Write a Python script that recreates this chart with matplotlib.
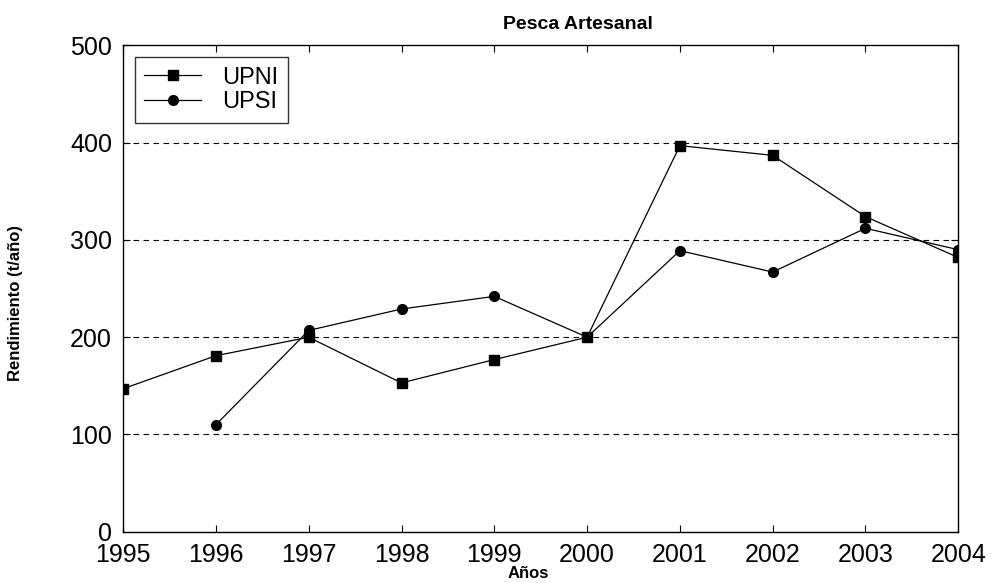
import numpy as np
import matplotlib.pyplot as plt

plt.rcParams['font.family'] = ['Liberation Sans', 'DejaVu Sans']

years = [1995, 1996, 1997, 1998, 1999, 2000, 2001, 2002, 2003, 2004]
upni = [147, 181, 200, 153, 177, 200, 397, 387, 324, 282]
upsi_years = [1996, 1997, 1998, 1999, 2000, 2001, 2002, 2003, 2004]
upsi = [110, 207, 229, 242, 200, 289, 267, 312, 290]

fig = plt.figure(figsize=(9.93, 5.83), dpi=100)
ax = fig.add_axes([0.124, 0.088, 0.841, 0.834])

ax.plot(years, upni, color='black', lw=0.9, marker='s', ms=7, label='UPNI')
ax.plot(upsi_years, upsi, color='black', lw=0.9, marker='o', ms=7, label='UPSI')

ax.set_xlim(1995, 2004)
ax.set_ylim(0, 500)
ax.set_xticks(years)
ax.set_yticks(np.arange(0, 501, 100))
ax.tick_params(direction='in', top=True, right=True, labelsize=18, length=5)
ax.tick_params(axis='x', pad=8)
ax.tick_params(axis='y', pad=8)
for y in [100, 200, 300, 400]:
    ax.axhline(y, color='black', lw=0.8, ls=(0, (5, 4)), zorder=0)
for s in ax.spines.values():
    s.set_linewidth(1.0)

ax.set_title('Pesca Artesanal', fontsize=14, fontweight='bold', x=0.545, pad=12)
ax.set_xlabel('Años', fontsize=12, fontweight='bold')
ax.xaxis.set_label_coords(0.485, -0.07)
ax.set_ylabel('Rendimiento (t/año)', fontsize=12, fontweight='bold')
ax.yaxis.set_label_coords(-0.12, 0.47)

leg = ax.legend(loc='upper left', fontsize=17, handlelength=2.4, handletextpad=0.9,
                frameon=True, fancybox=False, edgecolor='black', borderaxespad=0.5,
                labelspacing=0.1, borderpad=0.4)
leg.get_frame().set_linewidth(1.0)

fig.savefig('out.png', dpi=100)
